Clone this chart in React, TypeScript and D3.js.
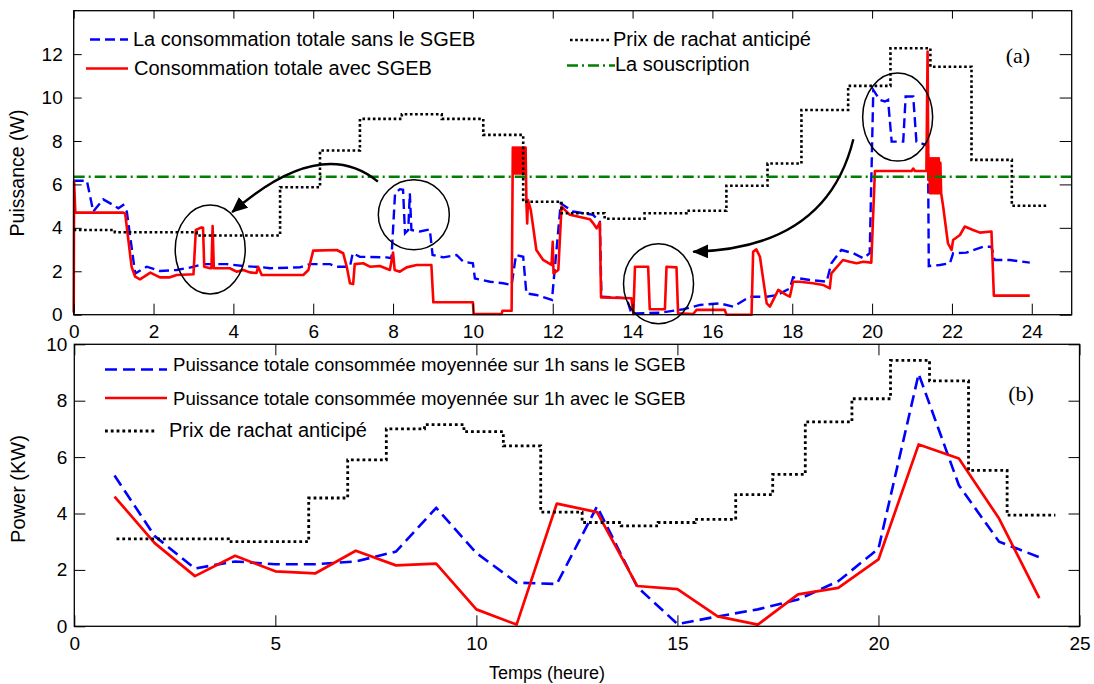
import React, { useRef, useEffect } from "react";
import * as d3 from "d3";

// ---------- panel (a) : puissance instantanée ----------
const sansA: [number, number][] = [
  [0, 6.17], [0.33, 6.17], [0.49, 4.75], [0.74, 5.31], [0.99, 5.05], [1.12, 4.9], [1.24, 5.05], [1.33, 4.75],
  [1.54, 1.9], [1.83, 2.21], [2.16, 2.01], [2.58, 2.06], [2.91, 2.17], [3.25, 2.33], [3.83, 2.33], [4.25, 2.24],
  [4.75, 2.18], [4.92, 2.14], [5.67, 2.18], [5.92, 2.33], [6.42, 2.33], [6.59, 2.21], [6.92, 2.21], [6.99, 2.83],
  [7.17, 2.67], [7.84, 2.64], [7.96, 2.6], [8.05, 5.59], [8.17, 5.78], [8.25, 5.75], [8.3, 3.75], [8.38, 3.9],
  [8.42, 5.59], [8.46, 3.9], [8.67, 3.83], [8.92, 3.93], [8.99, 2.75], [9.26, 2.64], [9.59, 2.75], [9.76, 2.44],
  [10.0, 2.37], [10.05, 1.67], [10.43, 1.52], [10.76, 1.45], [10.97, 1.37], [11.08, 2.75], [11.26, 2.67],
  [11.34, 0.98], [11.59, 0.91], [11.98, 0.68], [12.2, 5.13], [12.51, 4.75], [13.01, 4.6], [13.18, 4.28],
  [13.22, 0.83], [13.85, 0.76], [13.97, 0.06], [14.68, 0.09], [15.27, 0.25], [15.69, 0.45], [16.19, 0.52],
  [16.52, 0.37], [16.94, 0.83], [17.36, 0.83], [17.61, 0.9], [17.94, 1.21], [18.02, 1.72], [18.44, 1.6],
  [18.86, 1.52], [18.98, 2.37], [19.23, 2.98], [19.53, 2.83], [19.78, 2.6], [19.94, 2.83], [20.03, 10.35],
  [20.19, 9.89], [20.32, 9.82], [20.4, 9.89], [20.49, 7.97], [20.78, 7.97], [20.84, 10.05], [21.03, 10.05],
  [21.11, 7.97], [21.28, 7.86], [21.4, 7.8], [21.42, 2.24], [21.7, 2.29], [21.95, 2.37], [22.03, 2.83],
  [22.36, 2.86], [22.78, 3.13], [22.99, 3.13], [23.07, 2.52], [23.45, 2.52], [23.95, 2.4],
];

const avecA: [number, number][] = [
  [0, 0.1], [0.01, 6.15], [0.04, 4.7], [1.24, 4.7], [1.29, 4.65], [1.45, 2.21], [1.54, 1.75], [1.66, 1.63],
  [1.92, 1.94], [2.16, 1.72], [2.41, 1.72], [2.58, 1.83], [3.0, 1.86], [3.06, 3.9], [3.2, 4.02], [3.24, 4.0],
  [3.27, 2.21], [3.42, 2.14], [3.45, 2.14], [3.48, 4.08], [3.51, 2.14], [3.91, 2.14], [4.08, 1.98], [4.25, 2.06],
  [4.41, 1.95], [4.58, 1.92], [4.62, 2.21], [4.71, 1.83], [5.75, 1.83], [5.88, 2.06], [6.0, 2.95], [6.59, 2.98],
  [6.75, 2.83], [6.84, 2.21], [6.92, 1.45], [7.0, 1.41], [7.04, 2.33], [7.25, 2.37], [7.42, 2.21], [7.67, 2.24],
  [7.92, 2.06], [8.0, 2.86], [8.04, 2.06], [8.17, 1.98], [8.34, 2.18], [8.59, 2.29], [8.96, 2.29], [9.01, 0.57],
  [10.0, 0.57], [10.02, 0.03], [10.72, 0.03], [10.74, 0.18], [10.97, 0.18], [11.0, 7.7],
  [11.02, 6.5], [11.04, 7.7], [11.06, 6.5], [11.08, 7.7], [11.1, 6.5], [11.12, 7.7], [11.14, 6.5], [11.16, 7.7],
  [11.18, 6.5], [11.2, 7.7], [11.22, 6.5], [11.24, 7.7], [11.26, 6.5], [11.28, 7.7], [11.3, 6.5], [11.32, 7.7],
  [11.34, 5.2], [11.36, 4.2], [11.38, 5.28], [11.45, 4.82], [11.59, 2.98], [11.76, 2.52], [11.97, 2.29],
  [12.0, 3.36], [12.02, 1.9], [12.14, 2.06], [12.22, 4.98], [12.43, 4.6], [12.93, 4.4], [13.01, 4.22],
  [13.1, 3.98], [13.18, 4.24], [13.21, 0.8], [13.97, 0.76], [14.02, 0.03], [14.06, 2.21], [14.39, 2.21],
  [14.43, 0.25], [14.81, 0.25], [14.85, 2.21], [15.1, 2.18], [15.14, 0.06], [15.52, 0.03], [15.6, 0.22],
  [16.31, 0.22], [16.35, 0.0], [16.98, 0.0], [17.02, 2.9], [17.1, 3.01], [17.19, 2.67], [17.36, 0.52],
  [17.44, 0.37], [17.65, 1.14], [17.86, 0.9], [17.94, 0.83], [18.02, 1.52], [18.19, 1.52], [18.52, 1.45],
  [18.77, 1.37], [18.94, 1.21], [18.98, 1.9], [19.27, 2.52], [19.44, 2.44], [19.61, 2.37], [19.78, 2.44],
  [19.98, 2.4], [20.07, 6.62], [20.99, 6.62], [21.03, 6.73], [21.07, 6.62], [21.36, 6.62], [21.39, 12.12],
  [21.41, 6.2], [21.43, 7.2], [21.45, 5.6], [21.47, 7.2], [21.49, 5.6], [21.51, 7.2], [21.53, 5.6], [21.55, 7.2],
  [21.57, 5.6], [21.59, 7.2], [21.61, 5.6], [21.63, 7.2], [21.65, 5.6], [21.67, 7.2], [21.69, 5.6], [21.71, 7.0],
  [21.73, 5.6], [21.78, 4.98], [21.9, 3.29], [21.99, 2.98], [22.03, 3.44], [22.2, 3.67], [22.32, 4.06],
  [22.53, 3.9], [22.7, 3.78], [22.99, 3.83], [23.05, 0.88], [23.95, 0.88],
];

// prix de rachat anticipé (a) : début de chaque palier et valeur
const prixATime = [0, 1.03, 3.08, 5.17, 6.17, 7.17, 8.22, 9.22, 10.26, 11.26, 12.22, 13.3, 14.3, 15.35, 16.35,
  17.38, 18.23, 19.4, 20.46, 21.46, 22.49, 23.5];
const prixAVal = [3.9, 3.8, 3.65, 5.87, 7.56, 9.02, 9.23, 9.02, 8.28, 5.2, 4.67, 4.42, 4.67, 4.79, 5.94,
  6.96, 9.43, 10.54, 12.27, 11.42, 7.13, 5.02];
const prixAEnd = 24.42;
const souscription = 6.35;

// ---------- panel (b) : moyennes horaires ----------
const heures = d3.range(1, 25);
const sansB = [5.35, 3.2, 2.05, 2.3, 2.2, 2.2, 2.3, 2.65, 4.2, 2.6, 1.55, 1.5, 4.25, 1.4, 0.08, 0.35, 0.6, 0.95,
  1.6, 2.75, 8.95, 5.0, 3.0, 2.45];
const avecB = [4.6, 2.95, 1.78, 2.5, 1.95, 1.88, 2.68, 2.16, 2.22, 0.6, 0.06, 4.35, 4.05, 1.43, 1.32, 0.35, 0.06,
  1.13, 1.36, 2.37, 6.45, 5.95, 3.82, 1.0];
const prixBTime = [1.05, 3.83, 5.83, 6.8, 7.76, 8.71, 9.69, 10.67, 11.6, 12.63, 13.6, 14.52, 15.44, 16.45, 17.37,
  18.18, 19.34, 20.3, 21.27, 22.24, 23.2];
const prixBVal = [3.1, 3.0, 4.55, 5.9, 7.0, 7.15, 6.9, 6.4, 4.05, 3.68, 3.56, 3.68, 3.79, 4.67, 5.39, 7.25, 8.07,
  9.43, 8.7, 5.53, 3.94];
const prixBEnd = 24.4;

// annotations (a) : ellipses [t, v, rx px, ry px] et flèches [début, contrôle, fin]
const ellipses = [[3.42, 3.0, 35, 44.5], [8.52, 4.6, 35.5, 35], [14.65, 1.43, 35, 40], [20.64, 9.1, 35, 44]];
const arrows = [
  [[7.62, 6.13], [6.19, 8.28], [3.97, 4.72]],
  [[19.53, 8.08], [18.86, 3.05], [15.52, 2.9]],
];

const FONT = '"Liberation Sans", Arial, Helvetica, sans-serif';
const BLUE = "#0000ff";
const RED = "#ff0000";
const GREEN = "#008000";

const stepPts = (t: number[], v: number[], end: number): [number, number][] => {
  const p = t.map((d, i) => [d, v[i]] as [number, number]);
  p.push([end, v[v.length - 1]]);
  return p;
};

const App: React.FC = () => {
  const ref = useRef<SVGSVGElement | null>(null);

  useEffect(() => {
    const svg = d3.select(ref.current);
    svg.selectAll("*").remove();

    const defs = svg.append("defs");
    defs.append("marker")
      .attr("id", "head")
      .attr("viewBox", "0 -7 16 14")
      .attr("refX", 15)
      .attr("refY", 0)
      .attr("markerUnits", "userSpaceOnUse")
      .attr("markerWidth", 16)
      .attr("markerHeight", 14)
      .attr("orient", "auto")
      .append("path")
      .attr("d", "M0,-7L16,0L0,7Z")
      .attr("fill", "black");

    const frame = (g: any, x: any, y: any, xt: number[], yt: number[], o: any) => {
      const [x0, x1] = x.range();
      const [y0, y1] = y.range();
      const style = (s: any) => {
        s.select(".domain").remove();
        s.selectAll("text").attr("font-size", 19).attr("font-family", FONT).attr("fill", "#000");
        s.selectAll("line").attr("stroke", "#000").attr("stroke-width", 1);
      };
      g.append("g").attr("transform", `translate(0,${y0})`)
        .call(d3.axisBottom(x).tickValues(xt).tickSize(-o.b).tickPadding(o.xp).tickSizeOuter(0))
        .call(style);
      g.append("g").attr("transform", `translate(0,${y1})`)
        .call(d3.axisTop(x).tickValues(xt).tickSize(-o.t).tickFormat(() => "").tickSizeOuter(0))
        .call(style);
      g.append("g").attr("transform", `translate(${x0},0)`)
        .call(d3.axisLeft(y).tickValues(yt).tickSize(-o.l).tickPadding(o.yp).tickSizeOuter(0))
        .call(style);
      g.append("g").attr("transform", `translate(${x1},0)`)
        .call(d3.axisRight(y).tickValues(yt).tickSize(-o.r).tickFormat(() => "").tickSizeOuter(0))
        .call(style);
      g.append("rect")
        .attr("x", x0).attr("y", y1)
        .attr("width", x1 - x0).attr("height", y0 - y1)
        .attr("fill", "none").attr("stroke", "#000").attr("stroke-width", 1.3);
    };

    const legendItem = (g: any, x1: number, x2: number, y: number, tx: number, ty: number,
      label: string, stroke: string, dash: string | null, w: number, fs: number) => {
      g.append("line").attr("x1", x1).attr("x2", x2).attr("y1", y).attr("y2", y)
        .attr("stroke", stroke).attr("stroke-width", w)
        .attr("stroke-dasharray", dash);
      g.append("text").attr("x", tx).attr("y", ty).attr("font-family", FONT)
        .attr("font-size", fs).text(label);
    };

    // ---------------- panel (a) ----------------
    const xA = d3.scaleLinear().domain([0, 25]).range([73.7, 1071.7]);
    const yA = d3.scaleLinear().domain([0, 14]).range([314.7, 10.7]);
    const gA = svg.append("g");
    const lineA = d3.line<[number, number]>().x((d) => xA(d[0])).y((d) => yA(d[1]));

    gA.append("path").attr("d", lineA(sansA)).attr("fill", "none")
      .attr("stroke", BLUE).attr("stroke-width", 2.4).attr("stroke-dasharray", "10 5");
    gA.append("path").attr("d", lineA(avecA)).attr("fill", "none")
      .attr("stroke", RED).attr("stroke-width", 2.6).attr("stroke-linejoin", "round");
    gA.append("path")
      .attr("d", lineA.curve(d3.curveStepAfter)(stepPts(prixATime, prixAVal, prixAEnd)))
      .attr("fill", "none").attr("stroke", "#000").attr("stroke-width", 2.6).attr("stroke-dasharray", "2.6 2.6");
    lineA.curve(d3.curveLinear);
    gA.append("path").attr("d", lineA([[0, souscription], [25, souscription]])).attr("fill", "none")
      .attr("stroke", GREEN).attr("stroke-width", 2.4).attr("stroke-dasharray", "11 4 2 4");

    // annotations
    gA.selectAll("ellipse").data(ellipses).enter().append("ellipse")
      .attr("cx", (d) => xA(d[0])).attr("cy", (d) => yA(d[1]))
      .attr("rx", (d) => d[2]).attr("ry", (d) => d[3])
      .attr("fill", "none").attr("stroke", "#000").attr("stroke-width", 1.5);
    arrows.forEach((a) => {
      const p = d3.path();
      p.moveTo(xA(a[0][0]), yA(a[0][1]));
      p.quadraticCurveTo(xA(a[1][0]), yA(a[1][1]), xA(a[2][0]), yA(a[2][1]));
      gA.append("path").attr("d", p.toString()).attr("fill", "none")
        .attr("stroke", "#000").attr("stroke-width", 2.4).attr("marker-end", "url(#head)");
    });

    frame(gA, xA, yA, d3.range(0, 25, 2), d3.range(0, 13, 2), { b: 11, t: 8, l: 8, r: 12, xp: 10, yp: 11 });

    legendItem(gA, 90, 128, 39.5, 133, 45.5, "La consommation totale sans le SGEB", BLUE, "10 5", 2.6, 20);
    legendItem(gA, 86, 128, 68.5, 134, 75, "Consommation totale avec SGEB", RED, null, 2.6, 20);
    legendItem(gA, 570, 610, 40, 613, 45.5, "Prix de rachat anticipé", "#000", "2.6 2.6", 2.6, 20);
    legendItem(gA, 567, 615, 65.5, 615, 71, "La souscription", GREEN, "11 4 2 4", 2.4, 20);

    gA.append("text").attr("x", 1018).attr("y", 63).attr("text-anchor", "middle")
      .attr("font-family", '"Liberation Serif", "Times New Roman", serif').attr("font-size", 22).text("(a)");
    gA.append("text").attr("transform", "translate(24,173) rotate(-90)").attr("text-anchor", "middle")
      .attr("font-family", FONT).attr("font-size", 19.5).text("Puissance (W)");

    // ---------------- panel (b) ----------------
    const xB = d3.scaleLinear().domain([0, 25]).range([74.3, 1079.5]);
    const yB = d3.scaleLinear().domain([0, 10]).range([626.3, 344.3]);
    const gB = svg.append("g");
    const lineB = d3.line<number>().x((d, i) => xB(heures[i])).y((d) => yB(d));
    const stepB = d3.line<[number, number]>().x((d) => xB(d[0])).y((d) => yB(d[1])).curve(d3.curveStepAfter);

    gB.append("path").attr("d", lineB(sansB)).attr("fill", "none")
      .attr("stroke", BLUE).attr("stroke-width", 2.6).attr("stroke-dasharray", "12 6");
    gB.append("path").attr("d", lineB(avecB)).attr("fill", "none")
      .attr("stroke", RED).attr("stroke-width", 2.7).attr("stroke-linejoin", "round");
    gB.append("path").attr("d", stepB(stepPts(prixBTime, prixBVal, prixBEnd))).attr("fill", "none")
      .attr("stroke", "#000").attr("stroke-width", 2.8).attr("stroke-dasharray", "2.8 3");

    frame(gB, xB, yB, d3.range(0, 26, 5), d3.range(0, 11, 2), { b: 11, t: 11, l: 11, r: 11, xp: 10.5, yp: 7 });

    legendItem(gB, 105, 167, 369.5, 173, 370.7, "Puissance totale consommée moyennée sur 1h sans le SGEB", BLUE, "12 6", 2.6, 18.6);
    legendItem(gB, 105, 167, 398, 173, 405, "Puissance totale consommée moyennée sur 1h avec le SGEB", RED, null, 2.7, 18.6);
    legendItem(gB, 105, 156, 431, 169, 436.7, "Prix de rachat anticipé", "#000", "2.8 3", 2.8, 20);

    gB.append("text").attr("x", 1021).attr("y", 401).attr("text-anchor", "middle")
      .attr("font-family", '"Liberation Serif", "Times New Roman", serif').attr("font-size", 22).text("(b)");
    gB.append("text").attr("transform", "translate(25,489) rotate(-90)").attr("text-anchor", "middle")
      .attr("font-family", FONT).attr("font-size", 20).text("Power (KW)");
    gB.append("text").attr("x", 547).attr("y", 679).attr("text-anchor", "middle")
      .attr("font-family", FONT).attr("font-size", 18).text("Temps (heure)");
  }, []);

  return (
    <svg
      ref={ref}
      width={1094}
      height={684}
      style={{ position: "absolute", left: 0, top: 0, background: "#fff" }}
    />
  );
};

export default App;
